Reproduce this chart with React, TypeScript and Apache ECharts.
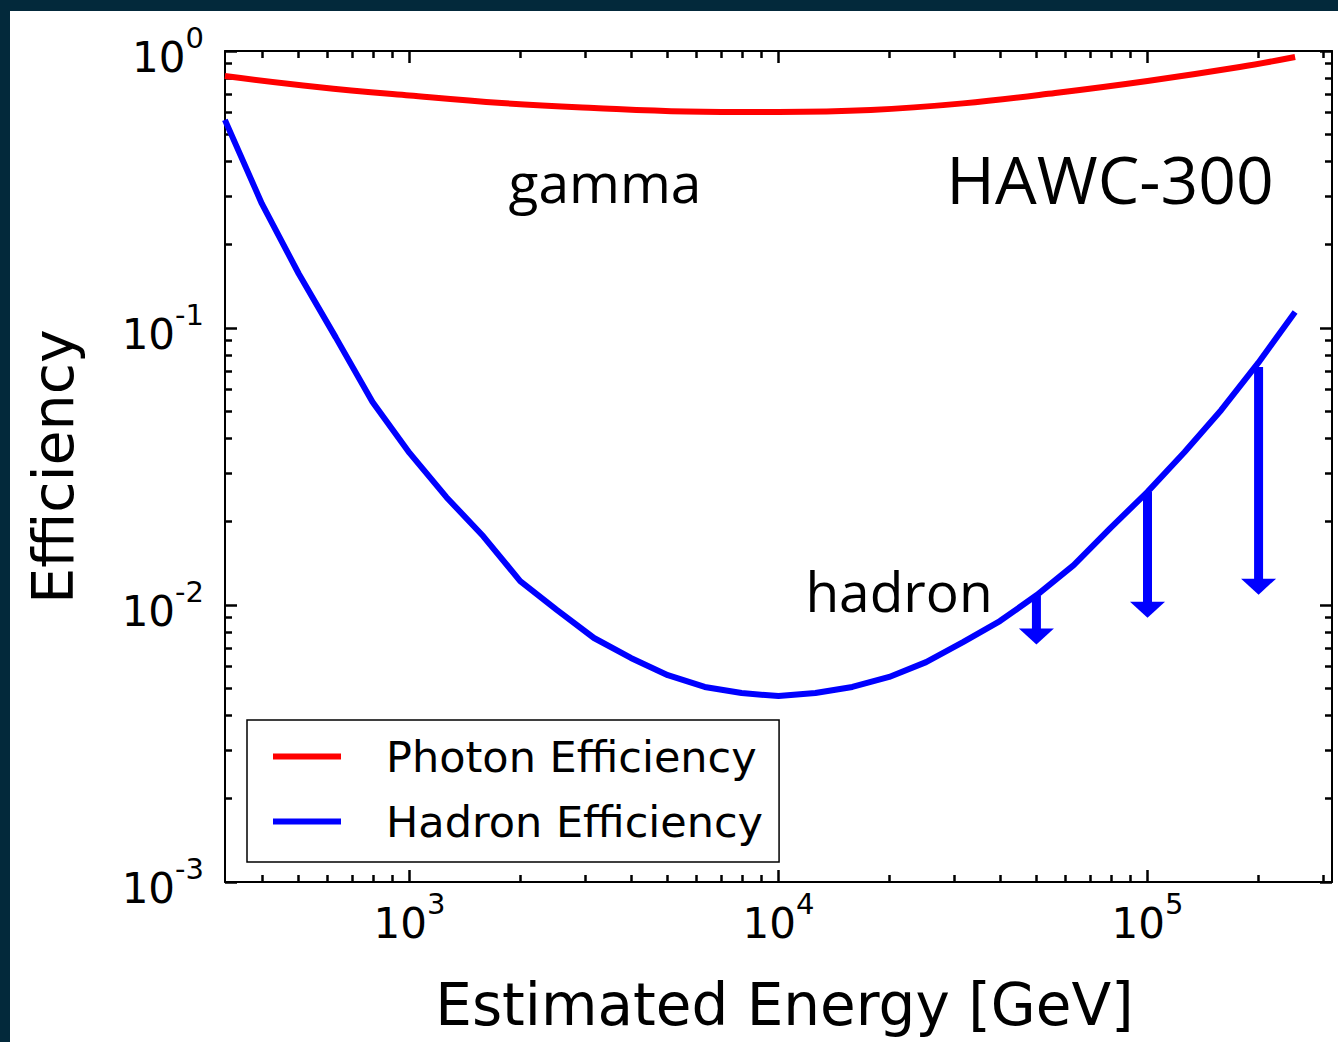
import React, { useEffect, useRef } from 'react';
import * as echarts from 'echarts';

// ---- data ----
const hadronEnergy = [316, 398, 501, 631, 794, 1000, 1259, 1585, 1995, 2512, 3162, 3981, 5012, 6310, 7943, 10000, 12589, 15849, 19953, 25119, 31623, 39811, 50119, 63096, 79433, 100000, 125893, 158489, 199526, 251189];
const hadronEff = [0.564, 0.281, 0.157, 0.0925, 0.0541, 0.0354, 0.0245, 0.0177, 0.0122, 0.00959, 0.0076, 0.00644, 0.00558, 0.00506, 0.00481, 0.00469, 0.00481, 0.00506, 0.0055, 0.00622, 0.00735, 0.00875, 0.01086, 0.01393, 0.019, 0.0256, 0.0356, 0.0506, 0.0748, 0.1143];

const photonEnergy = [316, 562, 1000, 1778, 3162, 5623, 10000, 17783, 31623, 56234, 100000, 177828, 251189];
const photonEff = [0.812, 0.742, 0.691, 0.649, 0.623, 0.605, 0.602, 0.612, 0.647, 0.705, 0.779, 0.875, 0.951];

const limitEnergy = [50000, 100000, 200000];
const limitFrom = [0.0108, 0.0256, 0.0723];
const limitTo = [0.0072, 0.009, 0.0109];

const xMin = 316.2278;
const xMax = 316227.8;
const yMin = 0.001;
const yMax = 1;

const xMajorTicks = [1000, 10000, 100000];
const xMinorTicks = [400, 500, 600, 700, 800, 900, 2000, 3000, 4000, 5000, 6000, 7000, 8000, 9000, 20000, 30000, 40000, 50000, 60000, 70000, 80000, 90000, 200000, 300000];
const yMajorTicks = [0.001, 0.01, 0.1, 1];
const yMinorTicks = [0.002, 0.003, 0.004, 0.005, 0.006, 0.007, 0.008, 0.009, 0.02, 0.03, 0.04, 0.05, 0.06, 0.07, 0.08, 0.09, 0.2, 0.3, 0.4, 0.5, 0.6, 0.7, 0.8, 0.9];

const seriesNames = ['Photon Efficiency', 'Hadron Efficiency'];

const lg = (v: number) => Number(Math.log10(v).toFixed(6));

const FONT = 'DejaVu Sans';
const ANNOT_FONT = 'Open Sans';

const labelRich = {
  b: { fontSize: 42, fontFamily: FONT, color: '#000', lineHeight: 55, verticalAlign: 'bottom' },
  s: { fontSize: 29, fontFamily: FONT, color: '#000', lineHeight: 29, verticalAlign: 'top' },
};
const powFormatter = (v: number) => `{b|10}{s|${Math.round(v)}}`;

function makeAxis(kind: 'x' | 'y', position: string, major: boolean, withLabel: boolean, extra: any = {}) {
  const ticks = major ? (kind === 'x' ? xMajorTicks : yMajorTicks) : (kind === 'x' ? xMinorTicks : yMinorTicks);
  const vals = ticks.map(lg);
  return {
    type: 'value',
    position,
    min: kind === 'x' ? lg(xMin) : lg(yMin),
    max: kind === 'x' ? lg(xMax) : lg(yMax),
    axisLine: { show: major, onZero: false, lineStyle: { color: '#000', width: 2 } },
    axisTick: {
      show: true,
      inside: true,
      length: major ? 12 : 7,
      customValues: vals,
      lineStyle: { color: '#000', width: 2.5 },
    },
    axisLabel: withLabel
      ? {
          show: true,
          customValues: vals,
          formatter: powFormatter,
          rich: labelRich,
          margin: kind === 'x' ? 7 : 21,
        }
      : { show: false },
    splitLine: { show: false },
    ...extra,
  };
}

export default function App() {
  const ref = useRef<HTMLDivElement>(null);

  useEffect(() => {
    if (!ref.current) return;
    const chart = echarts.init(ref.current, undefined, { renderer: 'svg' });

    const option: any = {
      animation: false,
      backgroundColor: 'transparent',
      grid: { left: 225, top: 51, right: 6, bottom: 160, containLabel: false },
      legend: {
        left: 247,
        top: 720,
        orient: 'vertical',
        backgroundColor: '#fff',
        borderColor: '#000',
        borderWidth: 1.5,
        borderRadius: 0,
        padding: [15, 16, 19, 26],
        itemWidth: 68,
        itemHeight: 6,
        itemGap: 22,
        icon: 'rect',
        textStyle: { fontFamily: FONT, fontSize: 43, color: '#000', lineHeight: 42, padding: [0, 0, 0, 40] },
        data: seriesNames,
      },
      xAxis: [
        makeAxis('x', 'bottom', true, true, {
          name: 'Estimated Energy [GeV]',
          nameLocation: 'middle',
          nameGap: 94,
          nameTextStyle: { fontFamily: FONT, fontSize: 58, color: '#000', padding: [0, 0, 0, 12] },
        }),
        makeAxis('x', 'bottom', false, false),
        makeAxis('x', 'top', true, false),
        makeAxis('x', 'top', false, false),
      ],
      yAxis: [
        makeAxis('y', 'left', true, true, {
          name: 'Efficiency',
          nameLocation: 'middle',
          nameRotate: 90,
          nameGap: 144,
          nameTextStyle: { fontFamily: FONT, fontSize: 57, color: '#000' },
        }),
        makeAxis('y', 'left', false, false),
        makeAxis('y', 'right', true, false),
        makeAxis('y', 'right', false, false),
      ],
      series: [
        {
          name: seriesNames[0],
          type: 'line',
          xAxisIndex: 0,
          yAxisIndex: 0,
          data: photonEnergy.map((e, i) => [lg(e), lg(photonEff[i])]),
          smooth: 0.4,
          showSymbol: false,
          symbol: 'none',
          lineStyle: { color: '#ff0000', width: 6 },
          itemStyle: { color: '#ff0000' },
          z: 4,
        },
        {
          name: seriesNames[1],
          type: 'line',
          xAxisIndex: 0,
          yAxisIndex: 0,
          data: hadronEnergy.map((e, i) => [lg(e), lg(hadronEff[i])]),
          smooth: false,
          showSymbol: false,
          symbol: 'none',
          lineStyle: { color: '#0000ff', width: 6 },
          itemStyle: { color: '#0000ff' },
          z: 4,
        },
        {
          name: 'upper limits',
          type: 'custom',
          coordinateSystem: 'cartesian2d',
          xAxisIndex: 0,
          yAxisIndex: 0,
          silent: true,
          z: 3,
          data: limitEnergy.map((e, i) => [lg(e), lg(limitFrom[i]), lg(limitTo[i])]),
          renderItem: (params: any, api: any) => {
            const top = api.coord([api.value(0), api.value(1)]);
            const tip = api.coord([api.value(0), api.value(2)]);
            const headH = 16;
            const headW = 35;
            const shaftW = 9;
            return {
              type: 'group',
              children: [
                {
                  type: 'rect',
                  shape: { x: top[0] - shaftW / 2, y: top[1], width: shaftW, height: tip[1] - headH - top[1] + 1 },
                  style: { fill: '#0000ff' },
                },
                {
                  type: 'polygon',
                  shape: {
                    points: [
                      [tip[0] - headW / 2, tip[1] - headH],
                      [tip[0] + headW / 2, tip[1] - headH],
                      [tip[0], tip[1]],
                    ],
                  },
                  style: { fill: '#0000ff' },
                },
              ],
            };
          },
        },
      ],
      graphic: [
        {
          type: 'text',
          x: 605,
          y: 181,
          style: { text: 'gamma', fontSize: 55, fontFamily: ANNOT_FONT, fill: '#000', textAlign: 'center', textVerticalAlign: 'middle' },
        },
        {
          type: 'text',
          x: 1110,
          y: 178,
          style: { text: 'HAWC-300', fontSize: 66, fontFamily: ANNOT_FONT, fill: '#000', textAlign: 'center', textVerticalAlign: 'middle' },
        },
        {
          type: 'text',
          x: 899,
          y: 590,
          style: { text: 'hadron', fontSize: 55, fontFamily: ANNOT_FONT, fill: '#000', textAlign: 'center', textVerticalAlign: 'middle' },
        },
      ],
    };

    chart.setOption(option);
    return () => chart.dispose();
  }, []);

  return (
    <div style={{ position: 'fixed', left: 0, top: 0, width: 1338, height: 1042, background: '#03293b', overflow: 'hidden' }}>
      <div style={{ position: 'absolute', left: 10, top: 11, right: 0, bottom: 0, background: '#ffffff' }} />
      <div ref={ref} style={{ position: 'absolute', left: 0, top: 0, width: 1338, height: 1042 }} />
    </div>
  );
}
